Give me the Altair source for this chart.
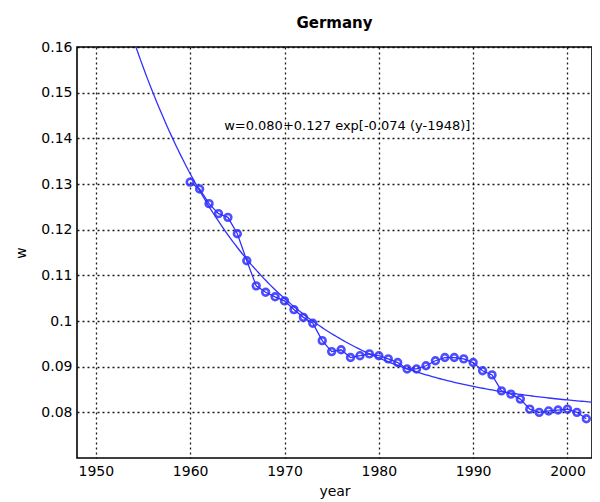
import altair as alt
import numpy as np
import pandas as pd

# ---- data ----
years = list(range(1960, 2003))
w_values = [0.1304, 0.1289, 0.1257, 0.1235, 0.1227, 0.1191, 0.1132, 0.1077, 0.1063, 0.1053,
            0.1044, 0.1025, 0.1008, 0.0995, 0.0957, 0.0933, 0.0937, 0.0920, 0.0924, 0.0928,
            0.0924, 0.0917, 0.0909, 0.0895, 0.0895, 0.0902, 0.0913, 0.0920, 0.0920, 0.0917,
            0.0909, 0.0891, 0.0882, 0.0847, 0.0840, 0.0829, 0.0807, 0.0800, 0.0803, 0.0805,
            0.0807, 0.0800, 0.0786]

# fit printed on the chart: w = a + b exp[-c (y - y0)]
fit_a, fit_b, fit_c, fit_y0 = 0.080, 0.127, 0.074, 1948
fit_years = list(np.arange(1948, 2003.001, 0.25))

x_ticks = [1950, 1960, 1970, 1980, 1990, 2000]
y_ticks = [0.08, 0.09, 0.10, 0.11, 0.12, 0.13, 0.14, 0.15, 0.16]
title_text = "Germany"
x_label = "year"
y_label = "w"
annotation_text = ["w=0.080+0.127 exp[-0.074 (y-1948)]"]
annotation_x = [1963.6]
annotation_y = [0.1428]

df = pd.DataFrame({"year": years, "w": w_values})
fit_df = pd.DataFrame({"year": fit_years,
                       "w": [fit_a + fit_b * np.exp(-fit_c * (y - fit_y0)) for y in fit_years]})
ann_df = pd.DataFrame({"year": annotation_x, "w": annotation_y, "t": annotation_text})

blue = "#3030ff"
font = "DejaVu Sans"
xscale = alt.Scale(domain=[1948, 2002.6], nice=False, zero=False)
yscale = alt.Scale(domain=[0.07, 0.16], nice=False, zero=False)

xaxis = alt.Axis(values=x_ticks, format="d", title=x_label, grid=True, ticks=False,
                 domain=False, labelPadding=6, titlePadding=6)
yaxis = alt.Axis(values=y_ticks, format=".2~f", title=y_label, grid=True, ticks=False,
                 domain=False, labelPadding=5, titlePadding=12)

base_x = alt.X("year:Q", scale=xscale, axis=xaxis)
base_y = alt.Y("w:Q", scale=yscale, axis=yaxis)

fit = alt.Chart(fit_df).mark_line(color=blue, strokeWidth=1.3, clip=True).encode(
    x=base_x, y=base_y)
line = alt.Chart(df).mark_line(color=blue, strokeWidth=1.3, clip=True).encode(
    x="year:Q", y="w:Q")
pts = alt.Chart(df).mark_point(color=blue, filled=False, size=46, strokeWidth=2.6,
                               opacity=0.85, clip=True).encode(x="year:Q", y="w:Q")
ann = alt.Chart(ann_df).mark_text(align="left", baseline="middle", font=font,
                                  fontSize=13, color="black").encode(
    x="year:Q", y="w:Q", text="t:N")

chart = alt.layer(fit, line, pts, ann).properties(
    width=515, height=411,
    title=alt.TitleParams(title_text, font=font, fontSize=15, fontWeight="bold",
                          color="black", offset=9),
    autosize=alt.AutoSizeParams(type="none"),
    padding={"left": 69, "top": 39, "right": 0, "bottom": 44},
).configure_view(stroke="black", strokeWidth=1.6).configure_axis(
    labelFont=font, labelFontSize=14, labelColor="black",
    titleFont=font, titleFontSize=14, titleFontWeight="normal", titleColor="black",
    gridColor="black", gridDash=[2, 3], gridWidth=1.3, gridOpacity=0.9,
)

chart.save("out.html", embed_options={"renderer": "svg", "actions": False})
